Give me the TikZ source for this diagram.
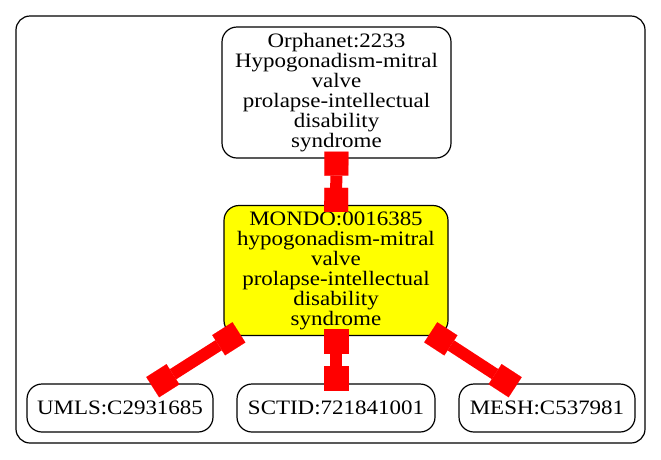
\documentclass[tikz,border=0pt]{standalone}
\usepackage{fontspec}
\setmainfont[FakeStretch=1.12]{Liberation Serif}
\usetikzlibrary{arrows.meta}
\definecolor{nodeyellow}{RGB}{255,255,0}
\definecolor{linkred}{RGB}{255,0,0}
\begin{document}
\begin{tikzpicture}[x=1pt,y=-1pt,
  clusterbox/.style={draw=black, line width=1.2pt, rounded corners=14pt, inner sep=0pt, minimum width=629pt, minimum height=427pt},
  termbox/.style={draw=black, line width=1.2pt, rounded corners=15pt, inner sep=0pt, align=center, font=\fontsize{20.5}{20}\selectfont},
  tipbox/.tip={Square[length=24pt,width=24pt,line width=0.1pt]},
  link/.style={draw=linkred, line width=12pt, {tipbox}-{tipbox}, shorten <=-7pt, shorten >=-7pt}]
\useasboundingbox (0,0) rectangle (661,459);
\node[clusterbox] (cluster) at (330.5,229.5) {};
\node[termbox, minimum width=229pt, minimum height=131pt] (orpha) at (336.5,92.5)
  {Orphanet:2233\\Hypogonadism-mitral\\valve\\prolapse-intellectual\\disability\\syndrome};
\node[termbox, fill=nodeyellow, minimum width=224pt, minimum height=130pt] (mondo) at (336,270.5)
  {MONDO:0016385\\hypogonadism-mitral\\valve\\prolapse-intellectual\\disability\\syndrome};
\node[termbox, minimum width=186pt, minimum height=48pt] (umls) at (120,408) {UMLS:C2931685};
\node[termbox, minimum width=198pt, minimum height=48pt] (sctid) at (336,408) {SCTID:721841001};
\node[termbox, minimum width=176pt, minimum height=48pt] (mesh) at (547,408) {MESH:C537981};
\draw[link] (orpha) -- (mondo);
\draw[link] (mondo) -- (umls);
\draw[link] (mondo) -- (sctid);
\draw[link] (mondo) -- (mesh);
\end{tikzpicture}
\end{document}
